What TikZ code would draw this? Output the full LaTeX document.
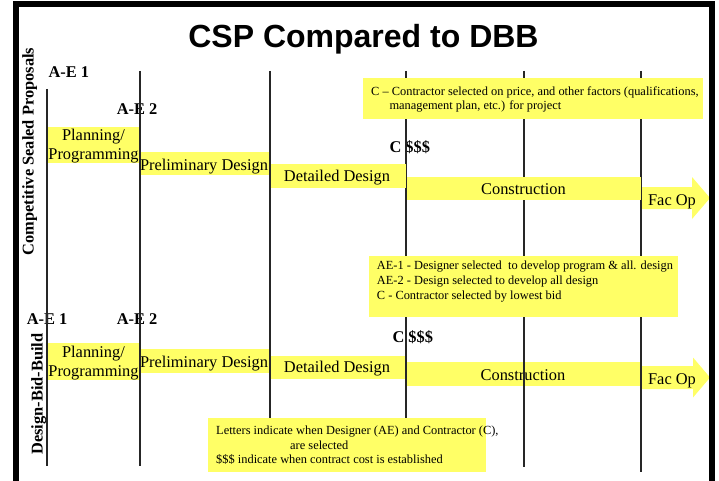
\documentclass[tikz,border=0pt]{standalone}
\usepackage{fontspec}
\setmainfont{Liberation Serif}
\newfontfamily\titlefont{Liberation Sans}
\definecolor{ylw}{HTML}{FFFF66}
\tikzset{
  phase/.style={inner sep=0pt, anchor=base, font=\fontsize{16.4}{19}\selectfont},
  blbl/.style={inner sep=0pt, anchor=base west, font=\fontsize{16.4}{19}\selectfont\bfseries},
  sidelbl/.style={inner sep=0pt, anchor=base, rotate=90, font=\fontsize{16.4}{19}\selectfont\bfseries},
  note/.style={inner sep=0pt, anchor=base west, font=\fontsize{12.4}{15}\selectfont},
  tline/.style={draw=black!85, line width=1.2pt},
  ybox/.style={fill=ylw},
}
\begin{document}
\begin{tikzpicture}[x=1pt,y=-1pt]
\useasboundingbox (0,0) rectangle (719,481);
\fill[white] (0,0) rectangle (719,481);

% selection labels
\node[blbl] (ae1a) at (48.3,77.7) {A-E 1};
\node[blbl] (ae2a) at (116.7,115) {A-E 2};
\node[blbl] (ae1b) at (26.7,324.3) {A-E 1};
\node[blbl] (ae2b) at (116.7,324.3) {A-E 2};
\node[blbl] (cA) at (389.3,152.5) {C \$\$\$};
\node[blbl] (cB) at (392.3,342.5) {C \$\$\$};

% bottom row (DBB) phases
\fill[ybox] (47.6,343) rectangle (139,380);
\fill[ybox] (140.8,349) rectangle (269,373);
\fill[ybox] (270.8,356) rectangle (405.5,379);
\fill[ybox] (406.8,362) rectangle (640.5,386);
\fill[ybox] (642,366) -- (693,366) -- (693,357.5) -- (710,377.5) -- (693,397.5) -- (693,389) -- (642,389) -- cycle;
\node[phase] (pb1) at (93.5,357) {Planning/};
\node[phase] (pb2) at (93.5,376.5) {Programming};
\node[phase] (prb) at (204,367.3) {Preliminary Design};
\node[phase] (ddb) at (337,372.7) {Detailed Design};
\node[phase] (cob) at (523,380) {Construction};
\node[phase] (fob) at (672,384) {Fac Op};

% time lines
\draw[tline] (47,89) -- (47,466);
\draw[tline] (140,71) -- (140,466);
\draw[tline] (270,71) -- (270,467);
\draw[tline] (406,71) -- (406,467);
\draw[tline] (524,71) -- (524,467);
\draw[tline] (641,71) -- (641,472);

% top row (CSP) phases
\fill[ybox] (47.6,127) rectangle (139,163);
\fill[ybox] (140.8,152) rectangle (269,175);
\fill[ybox] (270.8,164) rectangle (405.5,188);
\fill[ybox] (406.8,177) rectangle (640.5,200);
\fill[ybox] (642,187) -- (692,187) -- (692,177) -- (710,198) -- (692,219) -- (692,209) -- (642,209) -- cycle;
\node[phase] (pa1) at (93.5,141) {Planning/};
\node[phase] (pa2) at (93.5,159.3) {Programming};
\node[phase] (pra) at (204,170) {Preliminary Design};
\node[phase] (dda) at (337,182) {Detailed Design};
\node[phase] (coa) at (523.5,194) {Construction};
\node[phase] (foa) at (672,205) {Fac Op};

% notes
\fill[ybox] (363.3,77.7) rectangle (702.7,119.3);
\node[note] (cn1) at (371,95.7) {C – Contractor selected on price, and other factors (qualifications,};
\node[note] (cn2) at (389.3,110) {management plan, etc.) for project};

\fill[ybox] (369.3,256) rectangle (677.7,316.7);
\node[note] (an1) at (376.7,269) {AE-1 - Designer selected\ \ to develop program \& all. design};
\node[note] (an2) at (376.7,284) {AE-2 - Design selected to develop all design};
\node[note] (an3) at (376.7,299) {C - Contractor selected by lowest bid};

\fill[ybox] (208.3,417.7) rectangle (486,471.7);
\node[note] (ln1) at (216,434.3) {Letters indicate when Designer (AE) and Contractor (C),};
\node[note] (ln2) at (290,449) {are selected};
\node[note] (ln3) at (216,463.3) {\$\$\$ indicate when contract cost is established};

% title and side labels
\node[inner sep=0pt, anchor=base, font=\titlefont\bfseries\fontsize{32}{36}\selectfont] (title) at (363.5,48) {CSP Compared to DBB};
\node[sidelbl] (csp) at (33.5,151.5) {Competitive Sealed Proposals};
\node[sidelbl] (dbb) at (42.5,394) {Design-Bid-Build};

% frame
\fill[black] (13,1.5) rectangle (715,7);
\fill[black] (13,1.5) rectangle (19,481);
\fill[black] (709,1.5) rectangle (715,481);
\end{tikzpicture}
\end{document}
